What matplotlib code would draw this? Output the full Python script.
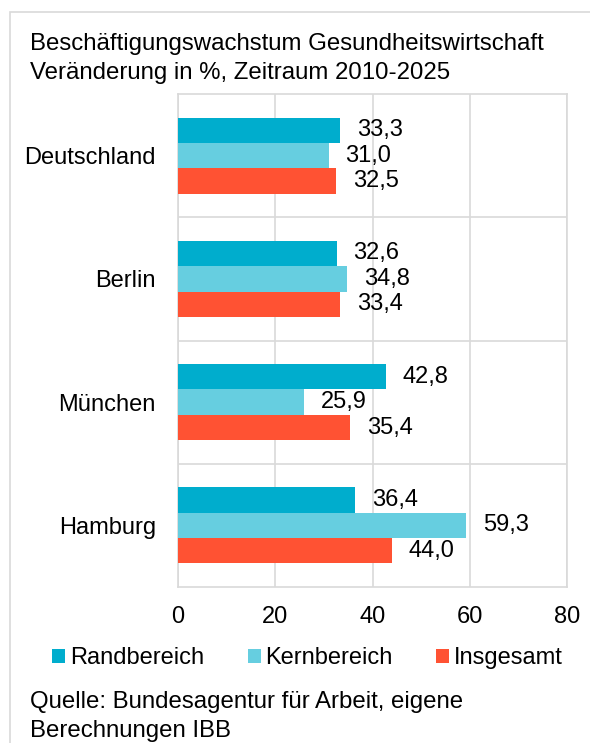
import matplotlib
matplotlib.use('Agg')
import numpy as np
import matplotlib.pyplot as plt
import matplotlib.patches as mpatches

plt.rcParams['font.family'] = ['Liberation Sans', 'DejaVu Sans']

# Daten
regions = ['Deutschland', 'Berlin', 'München', 'Hamburg']
randbereich = [33.3, 32.6, 42.8, 36.4]
kernbereich = [31.0, 34.8, 25.9, 59.3]
insgesamt = [32.5, 33.4, 35.4, 44.0]
series_names = ['Randbereich', 'Kernbereich', 'Insgesamt']
x_ticks = [0, 20, 40, 60, 80]

COLORS = ['#00ADCD', '#66CEE0', '#FF5233']
GRID = '#d9d9d9'
FS = 17
FS_TXT = 17.3

W, H = 590, 743
fig = plt.figure(figsize=(W / 100, H / 100), dpi=100)
fig.patch.set_facecolor('white')

# äußerer Rahmen
frame = mpatches.Rectangle((10 / W, -0.1), 1.2, 1 - 12 / H + 0.1,
                           transform=fig.transFigure, fill=False,
                           edgecolor=GRID, linewidth=1.2)
fig.patches.append(frame)

ax = fig.add_axes([178 / W, 1 - 587 / H, (567 - 178) / W, (587 - 94) / H])

y = np.arange(len(regions))
h = 0.206
all_series = [randbereich, kernbereich, insgesamt]
for i, (vals, name, col) in enumerate(zip(all_series, series_names, COLORS)):
    bars = ax.barh(y + (i - 1) * h, vals, height=h, color=col, label=name, zorder=3)
    for b, v in zip(bars, vals):
        ax.annotate(f'{v:.1f}'.replace('.', ','),
                    xy=(b.get_width(), b.get_y() + b.get_height() / 2),
                    xytext=(12, 0), textcoords='offset points',
                    ha='left', va='center', fontsize=FS, color='black')

ax.set_xlim(0, 80)
ax.set_ylim(3.5, -0.5)
ax.set_xticks(x_ticks)
ax.set_xticklabels([str(t) for t in x_ticks], fontsize=FS)
ax.set_yticks(y)
ax.set_yticklabels(regions, fontsize=FS)
ax.set_yticks([0.5, 1.5, 2.5], minor=True)
ax.tick_params(axis='both', which='both', length=0)
ax.tick_params(axis='x', pad=14)
ax.tick_params(axis='y', pad=16)
ax.grid(axis='x', which='major', color=GRID, linewidth=1.2, zorder=0)
ax.grid(axis='y', which='minor', color=GRID, linewidth=1.2, zorder=0)
for s in ax.spines.values():
    s.set_edgecolor(GRID)
    s.set_linewidth(1.2)

fig.text(30 / W, 1 - 50 / H, 'Beschäftigungswachstum Gesundheitswirtschaft',
         fontsize=FS_TXT, va='baseline', ha='left')
fig.text(30 / W, 1 - 79 / H, 'Veränderung in %, Zeitraum 2010-2025',
         fontsize=FS_TXT, va='baseline', ha='left')

handles = [mpatches.Patch(facecolor=c, edgecolor='none', label=n)
           for c, n in zip(COLORS, series_names)]
fig.legend(handles=handles, loc='center left', bbox_to_anchor=(52 / W, 1 - 658 / H),
           ncol=3, frameon=False, fontsize=FS, handlelength=0.55, handleheight=0.55,
           handletextpad=0.2, columnspacing=1.85, borderpad=0, borderaxespad=0)

fig.text(30 / W, 1 - 708 / H, 'Quelle: Bundesagentur für Arbeit, eigene',
         fontsize=FS_TXT, va='baseline', ha='left')
fig.text(30 / W, 1 - 737 / H, 'Berechnungen IBB',
         fontsize=FS_TXT, va='baseline', ha='left')

fig.savefig('out.png', dpi=100, facecolor='white')
